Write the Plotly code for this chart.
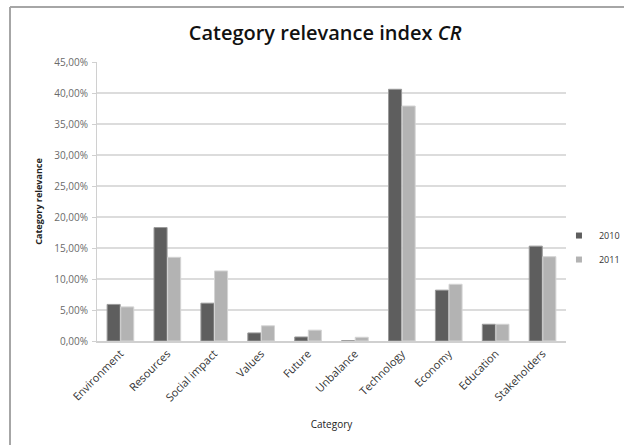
import plotly.graph_objects as go

categories = ["Environment", "Resources", "Social impact", "Values", "Future",
              "Unbalance", "Technology", "Economy", "Education", "Stakeholders"]
values_2010 = [5.9, 18.3, 6.1, 1.3, 0.65, 0.05, 40.6, 8.2, 2.7, 15.3]
values_2011 = [5.5, 13.5, 11.3, 2.45, 1.75, 0.6, 37.9, 9.15, 2.7, 13.6]
y_ticks = [0, 5, 10, 15, 20, 25, 30, 35, 40, 45]

font_family = "Open Sans, Liberation Sans, sans-serif"
dark, light = "#5e5e5e", "#b3b3b3"

fig = go.Figure()
fig.add_trace(go.Bar(
    name="2010", x=categories, y=[v / 100 for v in values_2010],
    marker=dict(color=dark, line=dict(color="#9a9a9a", width=1)),
    showlegend=False,
))
fig.add_trace(go.Bar(
    name="2011", x=categories, y=[v / 100 for v in values_2011],
    marker=dict(color=light, line=dict(color="#d4d4d4", width=1)),
    showlegend=False,
))
# small square keys for the legend
for name, col in (("2010", dark), ("2011", light)):
    fig.add_trace(go.Scatter(
        x=[None], y=[None], mode="markers", name=name, legendgroup=name,
        marker=dict(symbol="square", size=6, color=col),
    ))

fig.update_layout(
    width=624, height=445,
    margin=dict(l=97, r=58, t=62, b=104, autoexpand=False),
    paper_bgcolor="white", plot_bgcolor="white",
    separators=", ",
    barmode="group", bargap=0.42, bargroupgap=0.04,
    font=dict(family=font_family, color="#404040"),
    title=dict(text="Category relevance index <i>CR</i>",
               x=0.521, xanchor="center", y=0.926, yanchor="middle",
               font=dict(size=20, color="#111111", weight=600)),
    legend=dict(x=0.985, y=0.335, xanchor="left", yanchor="middle",
                font=dict(size=9, color="#333333"),
                itemwidth=30, tracegroupgap=5, bgcolor="rgba(0,0,0,0)"),
    showlegend=True,
    shapes=[
        dict(type="line", xref="paper", yref="paper",
             x0=-0.1855, x1=-0.1855, y0=1.197, y1=-0.4,
             line=dict(color="#a6a6a6", width=2)),
        dict(type="line", xref="paper", yref="paper",
             x0=-0.1855, x1=1.2, y0=1.197, y1=1.197,
             line=dict(color="#a6a6a6", width=2)),
    ],
)
fig.update_xaxes(
    tickangle=-45, tickfont=dict(size=11, color="#333333"),
    showline=True, linecolor="#d0d0d0", linewidth=2,
    title=dict(text="Category", font=dict(size=10, color="#222222"), standoff=18),
)
fig.update_yaxes(
    range=[0, 0.45], tickvals=[t / 100 for t in y_ticks], tickformat=".2%",
    tickfont=dict(size=10, color="#6a6a6a"), ticklabelstandoff=2,
    showgrid=True, gridcolor="#dcdcdc", gridwidth=2,
    showline=True, linecolor="#d0d0d0", linewidth=1,
    ticks="outside", ticklen=4, tickcolor="#d0d0d0",
    zeroline=False,
    title=dict(text="<b>Category relevance</b>", font=dict(size=9, color="#222222"), standoff=10),
)

fig.write_html("out.html")
